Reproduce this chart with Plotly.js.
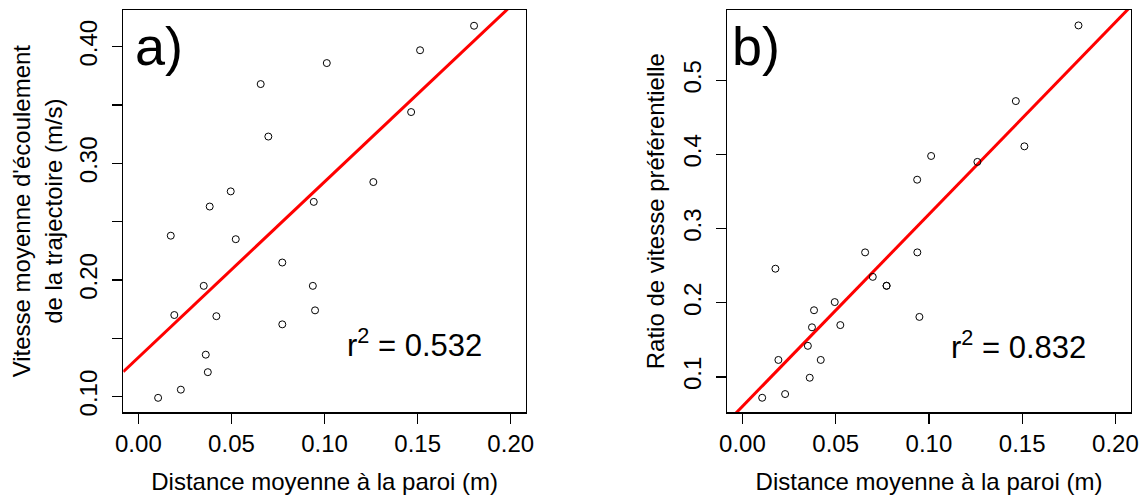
<!DOCTYPE html>
<html>
<head>
<meta charset="utf-8">
<script src="https://cdn.plot.ly/plotly-3.0.1.min.js"></script>
<style>
  html, body { margin: 0; padding: 0; background: #ffffff; }
  #chart { width: 1145px; height: 502px; }
</style>
</head>
<body>
<div id="chart"></div>
<script>
// Panel a) : mean flow speed along the trajectory vs mean distance to the wall
const distanceA = [0.1803, 0.1513, 0.1012, 0.0657, 0.1465, 0.0698, 0.1262, 0.0496, 0.0942, 0.0383,
                   0.0174, 0.0523, 0.0773, 0.0351, 0.0937, 0.0193, 0.0419, 0.0949, 0.0773, 0.0362,
                   0.0373, 0.0228, 0.0106];
const vitesse   = [0.418, 0.397, 0.386, 0.368, 0.344, 0.323, 0.284, 0.276, 0.267, 0.263,
                   0.238, 0.235, 0.215, 0.195, 0.195, 0.170, 0.169, 0.174, 0.162, 0.136,
                   0.121, 0.106, 0.099];
// Panel b) : preferential speed ratio vs mean distance to the wall
const distanceB = [0.1802, 0.1466, 0.1512, 0.1012, 0.1260, 0.0937, 0.0658, 0.0938, 0.0177, 0.0699,
                   0.0773, 0.0773, 0.0495, 0.0384, 0.0949, 0.0373, 0.0525, 0.0351, 0.0193, 0.0420,
                   0.0361, 0.0229, 0.0106];
const ratio     = [0.574, 0.472, 0.411, 0.398, 0.390, 0.366, 0.268, 0.268, 0.246, 0.235,
                   0.223, 0.223, 0.201, 0.190, 0.181, 0.167, 0.170, 0.142, 0.123, 0.123,
                   0.099, 0.077, 0.072];

// Linear fits (intercept, slope) and r² labels
const fitA = { intercept: 0.1336, slope: 1.506, r2: "0.532" };
const fitB = { intercept: 0.0603, slope: 2.59,  r2: "0.832" };

// Tick values / labels
const xTickVals   = [0.00, 0.05, 0.10, 0.15, 0.20];
const xTickText   = ["0.00", "0.05", "0.10", "0.15", "0.20"];
const yATickVals  = [0.10, 0.20, 0.30, 0.40];
const yATickText  = ["0.10", "0.20", "0.30", "0.40"];
const yAMinorVals = [0.15, 0.25, 0.35];   // ticks drawn without labels
const yBTickVals  = [0.1, 0.2, 0.3, 0.4, 0.5];
const yBTickText  = ["0.1", "0.2", "0.3", "0.4", "0.5"];

const xRange  = [-0.0081, 0.2082];
const yARange = [0.0866, 0.4315];
const yBRange = [0.0524, 0.5948];

const W = 1145, H = 502;
const px = v => v / W;
const py = v => 1 - v / H;

function fitLine(fit) {
  const xs = [xRange[0], xRange[1]];
  return { x: xs, y: xs.map(x => fit.intercept + fit.slope * x) };
}

const FONT = "Liberation Sans, Arial, Helvetica, sans-serif";
const lineA = fitLine(fitA), lineB = fitLine(fitB);

const markerStyle = { symbol: "circle-open", size: 7, color: "#000000", line: { width: 1, color: "#000000" } };

const data = [
  { x: lineA.x, y: lineA.y, xaxis: "x", yaxis: "y", mode: "lines",
    line: { color: "#ff0000", width: 3 }, hoverinfo: "skip", showlegend: false },
  { x: distanceA, y: vitesse, xaxis: "x", yaxis: "y", mode: "markers", type: "scatter",
    marker: markerStyle, showlegend: false, cliponaxis: false },
  { x: lineB.x, y: lineB.y, xaxis: "x2", yaxis: "y2", mode: "lines",
    line: { color: "#ff0000", width: 3 }, hoverinfo: "skip", showlegend: false },
  { x: distanceB, y: ratio, xaxis: "x2", yaxis: "y2", mode: "markers", type: "scatter",
    marker: markerStyle, showlegend: false, cliponaxis: false }
];

const axisCommon = {
  showgrid: false, zeroline: false, showline: true, mirror: true,
  linecolor: "#000000", linewidth: 1.3,
  ticks: "outside", ticklen: 10, tickwidth: 1.3, tickcolor: "#000000",
  tickfont: { family: FONT, size: 24, color: "#000000" },
  tickmode: "array", fixedrange: true
};

const layout = {
  width: W, height: H,
  margin: { l: 0, r: 0, t: 0, b: 0 },
  paper_bgcolor: "#ffffff", plot_bgcolor: "#ffffff",
  font: { family: FONT, size: 24, color: "#000000" },
  showlegend: false,
  xaxis: Object.assign({}, axisCommon, {
    domain: [px(123.3), px(526)], range: xRange, anchor: "y",
    tickvals: xTickVals, ticktext: xTickText,
    title: { text: "Distance moyenne à la paroi (m)", font: { family: FONT, size: 24 }, standoff: 16 }
  }),
  yaxis: Object.assign({}, axisCommon, {
    domain: [py(412.3), py(10)], range: yARange, anchor: "x",
    tickvals: yATickVals, ticktext: yATickText, tickangle: -90, ticklabelstandoff: 5,
    minor: { tickmode: "array", tickvals: yAMinorVals, ticks: "outside", ticklen: 10, tickwidth: 1.3, tickcolor: "#000000", showgrid: false },
    title: { text: "Vitesse moyenne d'écoulement<br>de la trajectoire (m/s)", font: { family: FONT, size: 24 }, standoff: 6 }
  }),
  xaxis2: Object.assign({}, axisCommon, {
    domain: [px(727.3), px(1130.7)], range: xRange, anchor: "y2",
    tickvals: xTickVals, ticktext: xTickText,
    title: { text: "Distance moyenne à la paroi (m)", font: { family: FONT, size: 24 }, standoff: 16 }
  }),
  yaxis2: Object.assign({}, axisCommon, {
    domain: [py(412.3), py(10)], range: yBRange, anchor: "x2",
    tickvals: yBTickVals, ticktext: yBTickText, tickangle: -90, ticklabelstandoff: 5,
    title: { text: "Ratio de vitesse préférentielle", font: { family: FONT, size: 24 }, standoff: 8 }
  }),
  annotations: [
    { text: "a)", xref: "paper", yref: "paper", x: px(133), y: py(46), xanchor: "left", yanchor: "middle",
      showarrow: false, font: { family: FONT, size: 54, color: "#000000" } },
    { text: "b)", xref: "paper", yref: "paper", x: px(730), y: py(46), xanchor: "left", yanchor: "middle",
      showarrow: false, font: { family: FONT, size: 54, color: "#000000" } },
    { text: "r<sup>2</sup> = " + fitA.r2, xref: "paper", yref: "paper", x: px(345), y: py(343), xanchor: "left", yanchor: "middle",
      showarrow: false, font: { family: FONT, size: 31, color: "#000000" } },
    { text: "r<sup>2</sup> = " + fitB.r2, xref: "paper", yref: "paper", x: px(949), y: py(345), xanchor: "left", yanchor: "middle",
      showarrow: false, font: { family: FONT, size: 31, color: "#000000" } }
  ]
};

Plotly.newPlot("chart", data, layout, { displayModeBar: false, staticPlot: true });
</script>
</body>
</html>
